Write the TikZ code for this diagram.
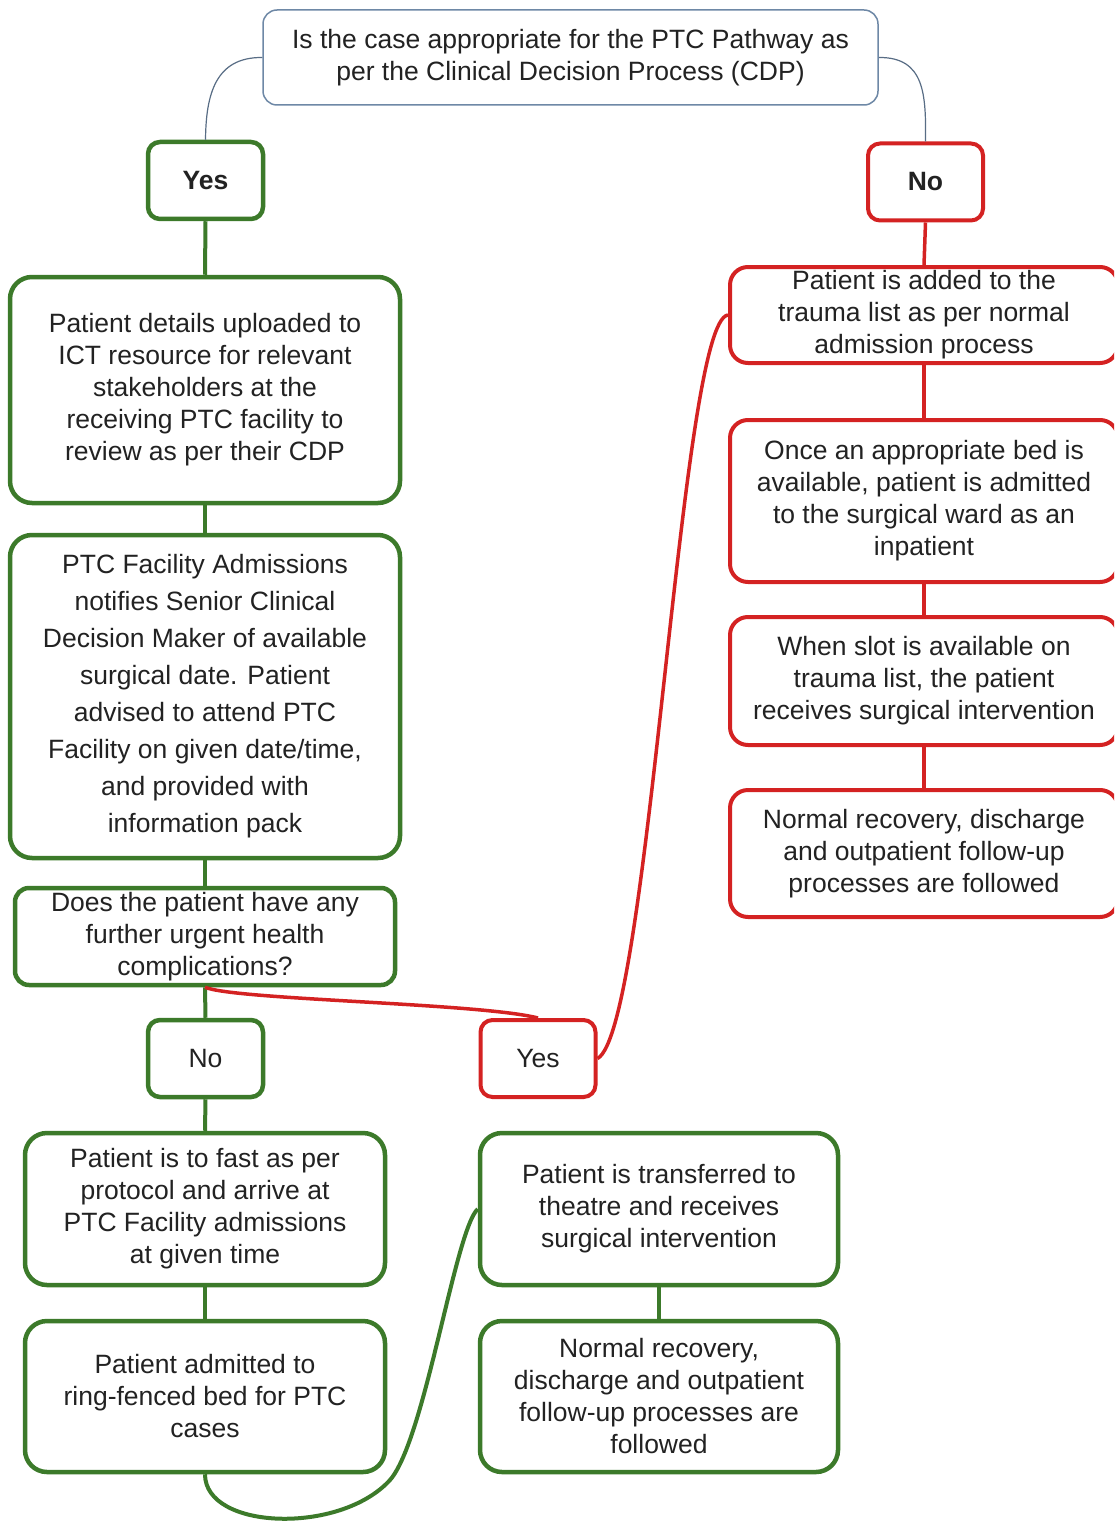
\documentclass[tikz,border=0pt]{standalone}
\usepackage{fontspec}
\setmainfont{Liberation Sans}
\usepackage{tikz}
\usepackage{xcolor}
\definecolor{boxgreen}{HTML}{3C7A2A}
\definecolor{boxred}{HTML}{D42222}
\definecolor{boxblue}{HTML}{6E88A6}
\definecolor{textgray}{HTML}{222222}

\begin{document}
\begin{tikzpicture}[x=1pt,y=-1pt,
    txt/.style={align=center,inner sep=0pt,text=textgray,font=\fontsize{26.5}{32}\selectfont},
    topbox/.style={txt,draw=boxblue,line width=1.5pt,rounded corners=14pt},
    greenbox/.style={txt,draw=boxgreen,line width=4.5pt,rounded corners=22pt},
    redbox/.style={txt,draw=boxred,line width=4pt,rounded corners=18pt},
    greenyes/.style={greenbox,rounded corners=12pt,minimum width=115,minimum height=77},
    redyes/.style={redbox,rounded corners=12pt,minimum width=115,minimum height=77},
    greenline/.style={draw=boxgreen,line width=4pt},
    redline/.style={draw=boxred,line width=3.5pt},
    thinline/.style={draw=boxblue!80!black,line width=1.2pt}]
    \clip (0,0) rectangle (1114,1522);
    \fill[white] (0,0) rectangle (1114,1522);
    \node[topbox,minimum width=615,minimum height=95] (q) at (570.5,57.5)
        {Is the case appropriate for the PTC Pathway as\\per the Clinical Decision Process (CDP)};
    \node[greenyes] (yesA) at (205.5,180.5) {\textbf{Yes}};
    \node[redyes] (noA) at (925.5,182) {\textbf{No}};
    \node[greenbox,minimum width=390,minimum height=226] (g1) at (205,390)
        {Patient details uploaded to\\ICT resource for relevant\\stakeholders at the\\receiving PTC facility to\\review as per their CDP};
    \node[greenbox,minimum width=390,minimum height=323,font=\fontsize{26.5}{37}\selectfont] (g2) at (205,696.5)
        {PTC Facility Admissions\\notifies Senior Clinical\\Decision Maker of available\\surgical date. Patient\\advised to attend PTC\\Facility on given date/time,\\and provided with\\information pack};
    \node[greenbox,rounded corners=14pt,minimum width=380,minimum height=97] (g3) at (205,936.5)
        {Does the patient have any\\further urgent health\\complications?};
    \node[greenyes] (noB) at (205.5,1058.5) {No};
    \node[redyes] (yesB) at (538,1058.5) {Yes};
    \node[greenbox,minimum width=360,minimum height=152] (g4) at (205,1209)
        {Patient is to fast as per\\protocol and arrive at\\PTC Facility admissions\\at given time};
    \node[greenbox,minimum width=360,minimum height=151] (g5) at (205,1396.5)
        {Patient admitted to\\ring-fenced bed for PTC\\cases};
    \node[greenbox,minimum width=358,minimum height=152] (g6) at (659,1209)
        {Patient is transferred to\\theatre and receives\\surgical intervention};
    \node[greenbox,minimum width=358,minimum height=151] (g7) at (659,1396.5)
        {Normal recovery,\\discharge and outpatient\\follow-up processes are\\followed};
    \node[redbox,minimum width=388,minimum height=96] (r1) at (924,315)
        {Patient is added to the\\trauma list as per normal\\admission process};
    \node[redbox,minimum width=388,minimum height=162] (r2) at (924,501)
        {Once an appropriate bed is\\available, patient is admitted\\to the surgical ward as an\\inpatient};
    \node[redbox,minimum width=388,minimum height=128] (r3) at (924,681)
        {When slot is available on\\trauma list, the patient\\receives surgical intervention};
    \node[redbox,minimum width=388,minimum height=127] (r4) at (924,853.5)
        {Normal recovery, discharge\\and outpatient follow-up\\processes are followed};
    \draw[thinline] (q.west) .. controls (215,57) and (206,95) .. (yesA.north);
    \draw[thinline] (q.east) .. controls (925,57) and (926,95) .. (noA.north);
    \draw[greenline] (yesA.south) -- (g1.north);
    \draw[greenline] (g1.south) -- (g2.north);
    \draw[greenline] (g2.south) -- (g3.north);
    \draw[greenline] (g3.south) -- (noB.north);
    \draw[greenline] (noB.south) -- (g4.north);
    \draw[greenline] (g4.south) -- (g5.north);
    \draw[greenline] (g6.south) -- (g7.north);
    \draw[greenline] (g5.south) .. controls (205,1530) and (340,1535) .. (390,1480)
        .. controls (425,1440) and (455,1230) .. (g6.west);
    \draw[redline] (g3.south) .. controls (235,1000) and (480,1003) .. (yesB.north);
    \draw[redline] (yesB.east) .. controls (650,1030) and (680,320) .. (r1.west);
    \draw[redline] (noA.south) -- (r1.north);
    \draw[redline] (r1.south) -- (r2.north);
    \draw[redline] (r2.south) -- (r3.north);
    \draw[redline] (r3.south) -- (r4.north);
\end{tikzpicture}
\end{document}
